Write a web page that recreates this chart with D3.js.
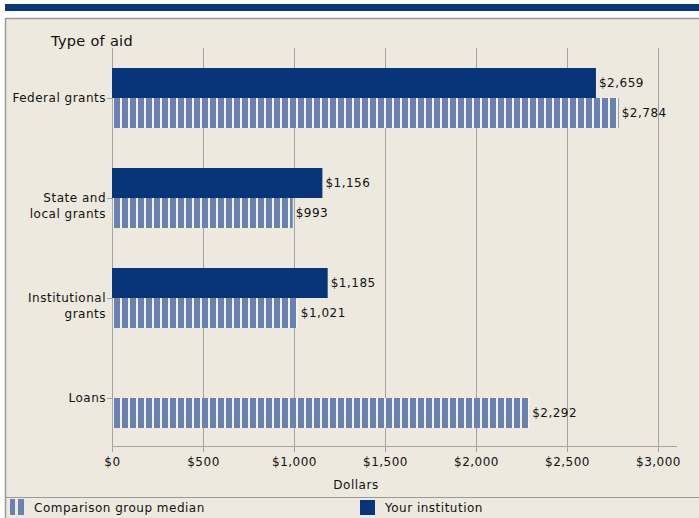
<!DOCTYPE html>
<html>
<meta charset="UTF-8">
<script src="https://d3js.org/d3.v7.min.js"></script>
<style>
  body { margin: 0; background: #fff; }
  text { font-family: "DejaVu Sans", Verdana, sans-serif; fill: #111; letter-spacing: 0.5px; }
</style>
<body>
<div id="chart"></div>
<script>
// data
var categories = ["Federal grants", "State and\nlocal grants", "Institutional\ngrants", "Loans"];
var yourInstitution = [2659, 1156, 1185, null];
var comparisonMedian = [2784, 993, 1021, 2292];
var xTicks = [0, 500, 1000, 1500, 2000, 2500, 3000];

var W = 699, H = 518;
var dark = "#08357a", stripe = "#6b82b1", bg = "#ede9de";

var svg = d3.select("#chart").append("svg")
    .attr("width", W).attr("height", H);

// top band and panel
svg.append("rect").attr("x", 5).attr("y", 4).attr("width", W - 5).attr("height", 7).attr("fill", "#0a377c");
svg.append("rect").attr("x", 5.5).attr("y", 18.5).attr("width", W).attr("height", H)
    .attr("fill", bg).attr("stroke", "#9a9a9a").attr("stroke-width", 1.5);

var defs = svg.append("defs");
var pat = defs.append("pattern").attr("id", "stripes")
    .attr("patternUnits", "userSpaceOnUse").attr("x", 112).attr("y", 0)
    .attr("width", 8).attr("height", 8);
pat.append("rect").attr("width", 8).attr("height", 8).attr("fill", "#f4f5f8");
pat.append("rect").attr("x", 2).attr("width", 6).attr("height", 8).attr("fill", stripe);

var x = d3.scaleLinear().domain([0, 3000]).range([112, 658]);
var y = d3.scaleBand().domain(categories).range([48, 448]);
var bh = 30;

// grid lines
svg.selectAll(".grid").data(xTicks.slice(1)).enter().append("line")
    .attr("x1", function(d) { return Math.round(x(d)) + 0.5; })
    .attr("x2", function(d) { return Math.round(x(d)) + 0.5; })
    .attr("y1", 48).attr("y2", 452)
    .attr("stroke", "#a3a3a3");

// axes
var xAxis = svg.append("g").attr("transform", "translate(0,446)")
    .call(d3.axisBottom(x).tickValues(xTicks).tickSize(6).tickPadding(5)
      .tickFormat(function(d) { return "$" + d3.format(",")(d); }));
xAxis.select(".domain").remove();
xAxis.selectAll("line").attr("stroke", "#a3a3a3");
xAxis.selectAll("text").attr("font-size", 12).attr("font-family", "DejaVu Sans").attr("fill", "#111");
svg.append("line").attr("x1", 112).attr("x2", 677).attr("y1", 446.5).attr("y2", 446.5).attr("stroke", "#a3a3a3");
svg.append("line").attr("x1", 112.5).attr("x2", 112.5).attr("y1", 48).attr("y2", 447).attr("stroke", "#a3a3a3");

// category ticks and labels
categories.forEach(function(c) {
  var cy = Math.round(y(c) + y.bandwidth() / 2);
  svg.append("line").attr("x1", 107).attr("x2", 112).attr("y1", cy + 0.5).attr("y2", cy + 0.5).attr("stroke", "#a3a3a3");
  var t = svg.append("text").attr("x", 105).attr("y", cy).attr("text-anchor", "end").attr("font-size", 12);
  c.split("\n").forEach(function(line, i) {
    t.append("tspan").attr("x", 106).attr("dy", i === 0 ? "0.35em" : 16).text(line);
  });
});

// bars
var dY = yourInstitution.map(function(v, i) { return {c: categories[i], v: v}; }).filter(function(d) { return d.v != null; });
var cY = comparisonMedian.map(function(v, i) { return {c: categories[i], v: v}; });

svg.selectAll(".your").data(dY).enter().append("rect")
    .attr("x", x(0)).attr("y", function(d) { return y(d.c) + y.bandwidth() / 2 - bh; })
    .attr("width", function(d) { return x(d.v) - x(0); }).attr("height", bh)
    .attr("fill", dark);
svg.selectAll(".comp").data(cY).enter().append("rect")
    .attr("x", x(0) + 1).attr("y", function(d) { return y(d.c) + y.bandwidth() / 2; })
    .attr("width", function(d) { return x(d.v) - x(0) - 1; }).attr("height", bh)
    .attr("fill", "url(#stripes)");

var fmt = function(v) { return "$" + d3.format(",")(v); };
svg.selectAll(".ylab").data(dY).enter().append("text")
    .attr("x", function(d) { return x(d.v) + 3; })
    .attr("y", function(d) { return y(d.c) + y.bandwidth() / 2 - bh / 2; })
    .attr("dy", "0.35em").attr("font-size", 12).text(function(d) { return fmt(d.v); });
svg.selectAll(".clab").data(cY).enter().append("text")
    .attr("x", function(d) { return x(d.v) + 3; })
    .attr("y", function(d) { return y(d.c) + y.bandwidth() / 2 + bh / 2; })
    .attr("dy", "0.35em").attr("font-size", 12).text(function(d) { return fmt(d.v); });

// titles
svg.append("text").attr("x", 51).attr("y", 46).attr("font-size", 14.5).style("letter-spacing", "0.3px").text("Type of aid");
svg.append("text").attr("x", 356).attr("y", 489).attr("text-anchor", "middle").attr("font-size", 12).text("Dollars");

// legend
svg.append("line").attr("x1", 5).attr("x2", W).attr("y1", 497.5).attr("y2", 497.5).attr("stroke", "#9a9a9a");
svg.append("rect").attr("x", 10).attr("y", 499).attr("width", 5).attr("height", 16).attr("fill", stripe);
svg.append("rect").attr("x", 18).attr("y", 499).attr("width", 6).attr("height", 16).attr("fill", stripe);
svg.append("text").attr("x", 34).attr("y", 508).attr("dy", "0.35em").attr("font-size", 12).text("Comparison group median");
svg.append("rect").attr("x", 360).attr("y", 500).attr("width", 15).attr("height", 15).attr("fill", dark);
svg.append("text").attr("x", 385).attr("y", 508).attr("dy", "0.35em").attr("font-size", 12).text("Your institution");
</script>
</body>
</html>
